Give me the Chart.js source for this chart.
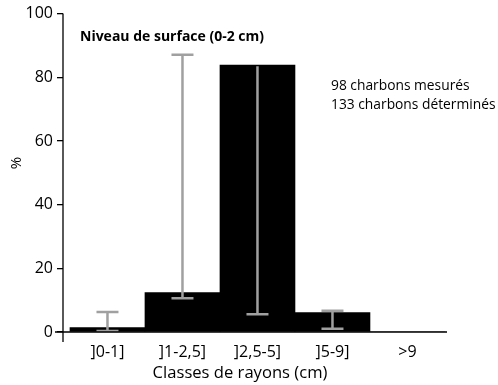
<!DOCTYPE html>
<html><head><meta charset="utf-8">
<script src="https://cdn.jsdelivr.net/npm/chart.js@4/dist/chart.umd.min.js"></script>
<style>html,body{margin:0;padding:0;background:#fff}#wrap{width:498px;height:385px}</style>
</head><body><div id="wrap"><canvas id="c" width="498" height="385"></canvas></div>
<script>
const categories = [']0-1]', ']1-2,5]', ']2,5-5]', ']5-9]', '>9'];
const values = [1.4, 12.4, 83.8, 6.1, 0];
const errLow = [0.3, 10.6, 5.6, 1.0, null];
const errHigh = [6.3, 87.1, 83.5, 6.7, null];
const upperCap = [true, true, false, true, false];
const yTicks = [0, 20, 40, 60, 80, 100];
const titleText = 'Niveau de surface (0-2 cm)';
const noteLines = ['98 charbons mesurés', '133 charbons déterminés'];
const xTitle = 'Classes de rayons (cm)';
const yTitle = '%';

const FONT = "'Open Sans', 'Noto Sans', sans-serif";

const overlay = {
  id: 'overlay',
  afterDatasetsDraw(chart) {
    const ctx = chart.ctx, xs = chart.scales.x, ys = chart.scales.y;
    ctx.save();
    ctx.strokeStyle = '#a0a0a0';
    ctx.lineWidth = 2.5;
    values.forEach((v, i) => {
      if (errLow[i] == null) return;
      const x = xs.getPixelForValue(i + 0.5);
      const yl = ys.getPixelForValue(errLow[i]);
      const yh = ys.getPixelForValue(errHigh[i]);
      ctx.beginPath();
      ctx.moveTo(x, yl); ctx.lineTo(x, yh);
      ctx.moveTo(x - 11, yl); ctx.lineTo(x + 11, yl);
      if (upperCap[i]) { ctx.moveTo(x - 11, yh); ctx.lineTo(x + 11, yh); }
      ctx.stroke();
    });
    const a = chart.chartArea;
    ctx.strokeStyle = '#000';
    ctx.lineWidth = 1.3;
    ctx.beginPath();
    ctx.moveTo(a.left, a.top); ctx.lineTo(a.left, a.bottom + 10);
    ctx.moveTo(a.left - 8, a.bottom); ctx.lineTo(a.right, a.bottom);
    ctx.stroke();
    ctx.fillStyle = '#000';
    ctx.textBaseline = 'middle';
    ctx.textAlign = 'left';
    ctx.font = "bold 14px " + FONT;
    ctx.fillText(titleText, 80, 37);
    ctx.font = "13.8px " + FONT;
    ctx.fillText(noteLines[0], 331, 86);
    ctx.fillText(noteLines[1], 331, 105);
    ctx.textAlign = 'center';
    ctx.font = "16.6px " + FONT;
    ctx.fillText(xTitle, 240, 373);
    ctx.translate(17, 163);
    ctx.rotate(-Math.PI / 2);
    ctx.font = "15px " + FONT;
    ctx.fillText(yTitle, 0, 0);
    ctx.restore();
  }
};

new Chart(document.getElementById('c'), {
  type: 'bar',
  data: {
    datasets: [{
      data: values.map((v, i) => ({ x: i + 0.5, y: v })),
      backgroundColor: '#000',
      borderWidth: 0,
      barPercentage: 1,
      categoryPercentage: 1
    }]
  },
  options: {
    responsive: false,
    animation: false,
    layout: { padding: { left: 0, top: 12, right: 51, bottom: 0 } },
    plugins: { legend: { display: false }, tooltip: { enabled: false } },
    scales: {
      x: {
        type: 'linear',
        offset: false,
        min: -0.093, max: 5.027,
        afterBuildTicks: (s) => { s.ticks = categories.map((c, i) => ({ value: i + 0.5 })); },
        afterFit: (s) => { s.height = 53; },
        grid: { display: false, drawTicks: false },
        border: { display: false },
        ticks: {
          autoSkip: false, maxRotation: 0, padding: 11,
          color: '#000', font: { family: FONT, size: 16 },
          callback: (v, i) => categories[i]
        }
      },
      y: {
        min: 0, max: 100,
        afterBuildTicks: (s) => { s.ticks = yTicks.map(v => ({ value: v })); },
        afterFit: (s) => { s.width = 63; },
        grid: { drawOnChartArea: false, drawTicks: true, tickLength: 6, color: '#000', lineWidth: 1.3 },
        border: { display: false },
        ticks: { padding: 4, color: '#000', font: { family: FONT, size: 16 } }
      }
    }
  },
  plugins: [overlay]
});
</script></body></html>
